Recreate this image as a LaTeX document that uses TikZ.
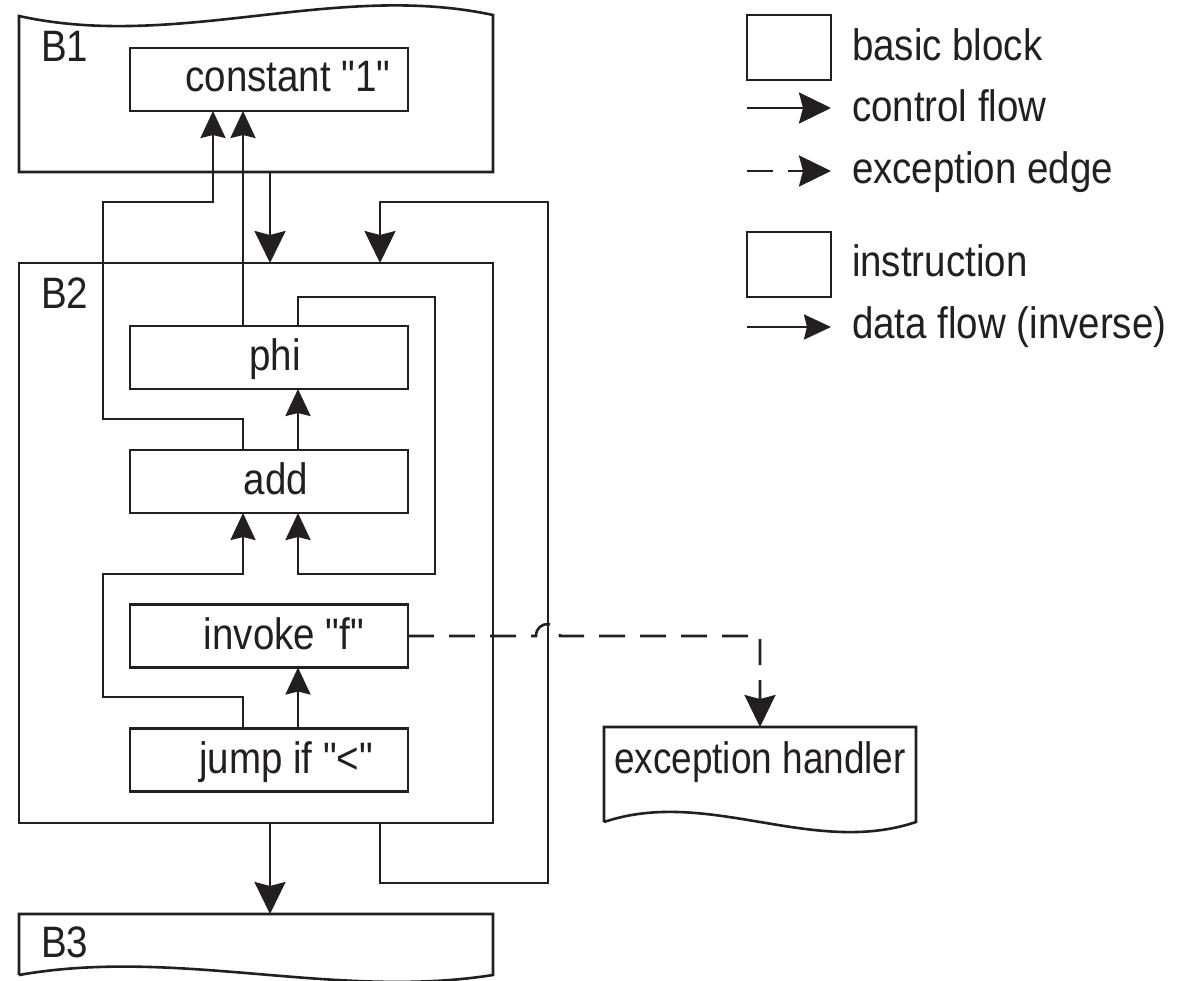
\documentclass[tikz,border=0pt]{standalone}
\usepackage{fontspec}
\setmainfont{Liberation Sans}[Ligatures=TeXOff, FakeStretch=0.875]
\newfontfamily\handlerfont{Liberation Sans}[Ligatures=TeXOff, FakeStretch=0.84]
\usetikzlibrary{arrows.meta}
\definecolor{ink}{HTML}{231F20}
\begin{document}
\begin{tikzpicture}[x=1pt,y=-1pt,
  every node/.style={inner sep=0pt, outer sep=0pt},
  ln/.style={line width=2.6pt, draw=ink, line join=miter},
  instr/.style={ln, minimum width=278pt, minimum height=63pt},
  block/.style={minimum width=474pt},
  txt/.style={font=\fontsize{44}{52}\selectfont, text=ink, anchor=base},
  cf/.style={ln, -{Stealth[length=32pt,width=31pt,inset=4pt]}},
  df/.style={ln, -{Stealth[length=27pt,width=25pt,inset=3pt]}},
  ex/.style={cf, dash pattern=on 26pt off 15pt}]

\useasboundingbox (0,0) rectangle (1187,981);

% ---------- basic blocks ----------
\node[block, minimum height=156pt] (b1) at (256,94) {};
\draw[ln] (b1.south west) -- (19,16) .. controls (177,51) and (335,-19) .. (493,15)
  -- (b1.south east) -- cycle;
\node[txt, anchor=base west] (b1L) at (41,62) {B1};

\node[block, ln, minimum height=560pt] (b2) at (256,543) {};
\node[txt, anchor=base west] (b2L) at (41,309) {B2};

\node[block, minimum height=61pt] (b3) at (256,944.5) {};
\draw[ln] (b3.south west) -- (b3.north west) -- (b3.north east) -- (b3.south east)
  .. controls (335,1000) and (177,947) .. (b3.south west);
\node[txt, anchor=base west] (b3L) at (41,957) {B3};

\node[minimum width=312pt, minimum height=95pt] (eh) at (760,774.5) {};
\draw[ln] (eh.south west) -- (eh.north west) -- (eh.north east) -- (eh.south east)
  .. controls (812,857) and (708,787) .. (eh.south west);
\node[txt, font=\fontsize{44}{52}\handlerfont] (ehT) at (760,773) {exception handler};

% ---------- instructions ----------
\node[instr] (const) at (269,79.5) {};
\node[txt] (constT) at (288,92) {constant "1"};
\node[instr] (phi) at (269,357.5) {};
\node[txt] (phiT) at (275,370.5) {phi};
\node[instr] (add) at (269,481.5) {};
\node[txt] (addT) at (276,494.5) {add};
\node[instr] (inv) at (269,636) {};
\node[txt] (invT) at (284,649) {invoke "f"};
\node[instr] (jmp) at (269,760) {};
\node[txt] (jmpT) at (286,773) {jump if "<"};

% ---------- data flow (inverse) ----------
\draw[df] ([xshift=-26pt]add.north) |- (103,419) |- (213,202) -- ([xshift=-56pt]const.south);
\draw[df] ([xshift=-26pt]phi.north) -- ([xshift=-26pt]const.south);
\draw[df] ([xshift=29pt]add.north) -- ([xshift=29pt]phi.south);
\draw[df] ([xshift=29pt]phi.north) |- (435,297) |- (298,574) -- ([xshift=29pt]add.south);
\draw[df] ([xshift=-26pt]jmp.north) |- (103,697) |- (243,574) -- ([xshift=-26pt]add.south);
\draw[df] ([xshift=29pt]jmp.north) -- ([xshift=29pt]inv.south);

% ---------- control flow ----------
\draw[cf] ([xshift=14pt]b1.south) -- ([xshift=14pt]b2.north);
\draw[cf] ([xshift=124pt]b2.south) |- (548,883) |- (380,202) -- ([xshift=124pt]b2.north);
\draw[cf] ([xshift=14pt]b2.south) -- ([xshift=14pt]b3.north);

% ---------- exception edge, hopping over the back edge ----------
\draw[ex] (inv.east) -- (536,636) .. controls (536,620) and (560,620) .. (560,636) -| (eh.north);

% ---------- legend ----------
\node[ln, minimum width=84pt, minimum height=65pt] (lgBlock) at (789,47.5) {};
\node[txt, anchor=base west] (lgBlockT) at (852,61) {basic block};
\coordinate (lgCfA) at (747,108);
\coordinate (lgCfB) at (831,108);
\draw[cf] (lgCfA) -- (lgCfB);
\node[txt, anchor=base west] (lgCfT) at (852,122) {control flow};
\coordinate (lgExA) at (747,171);
\coordinate (lgExB) at (831,171);
\draw[ex] (lgExA) -- (lgExB);
\node[txt, anchor=base west] (lgExT) at (852,184) {exception edge};
\node[ln, minimum width=84pt, minimum height=65pt] (lgInstr) at (789,264.5) {};
\node[txt, anchor=base west] (lgInstrT) at (852,277) {instruction};
\coordinate (lgDfA) at (747,327);
\coordinate (lgDfB) at (831,327);
\draw[df] (lgDfA) -- (lgDfB);
\node[txt, anchor=base west] (lgDfT) at (852,339) {data flow (inverse)};
\end{tikzpicture}
\end{document}
